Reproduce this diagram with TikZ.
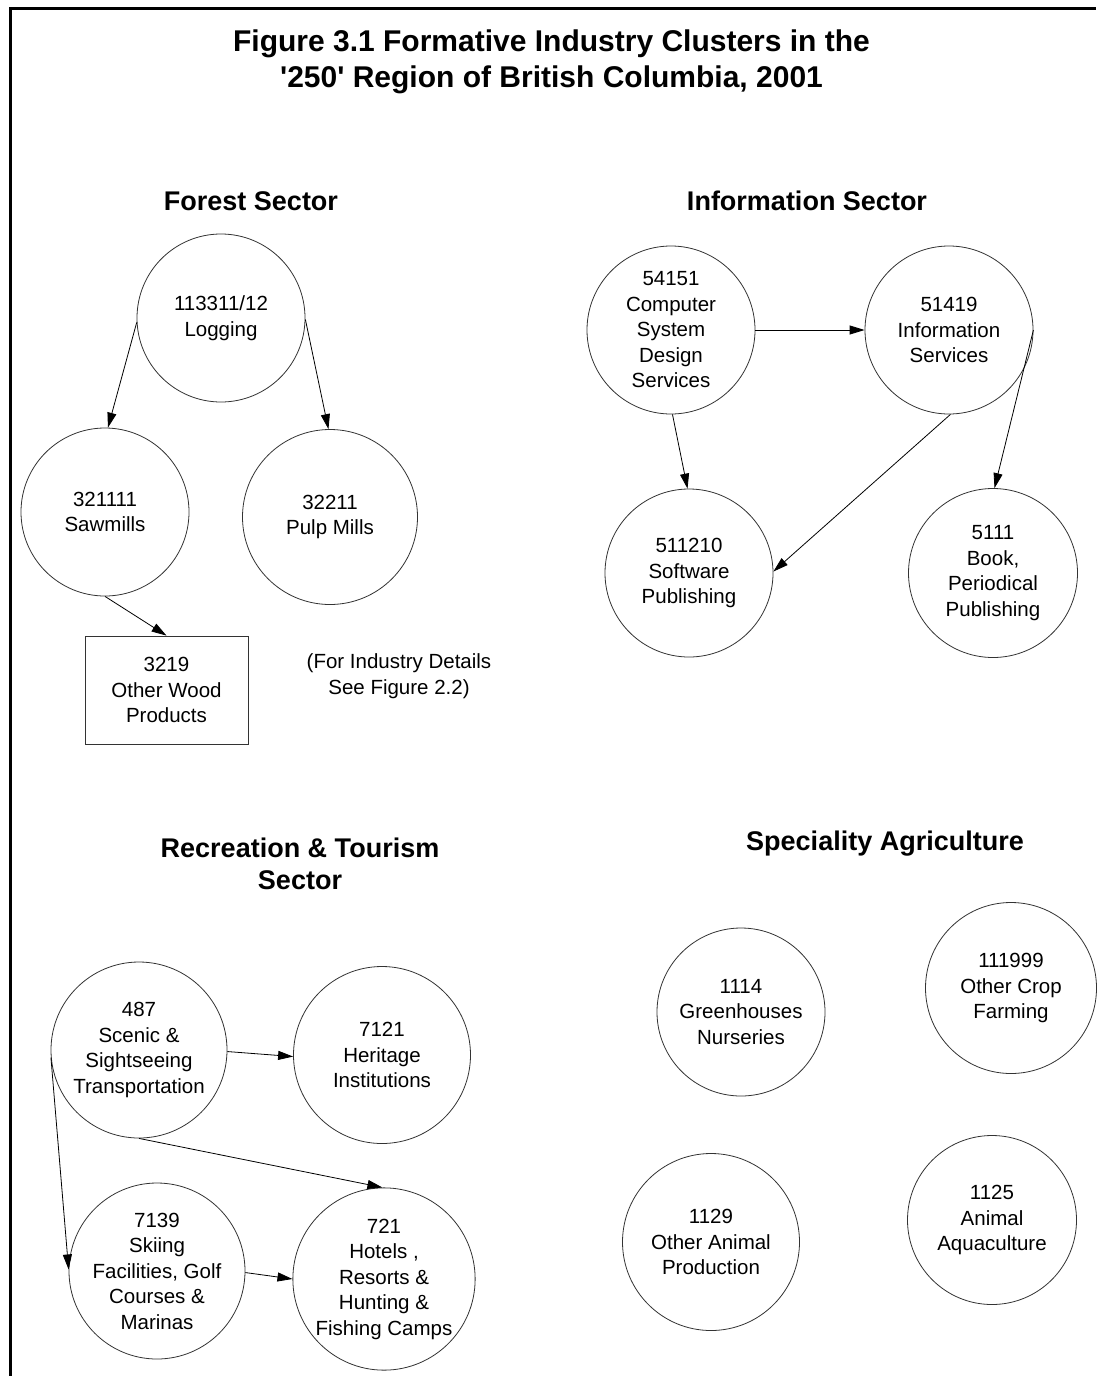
\documentclass[tikz,border=0pt]{standalone}
\usepackage{fontspec}
\setmainfont{Liberation Sans}
\usetikzlibrary{arrows.meta}

\begin{document}
\begin{tikzpicture}[x=1pt,y=-1pt,
  unit/.style={circle, draw=black!80, line width=0.8pt, inner sep=0pt,
    minimum size=#1, align=center, font=\fontsize{20.5}{25.5}\selectfont},
  unitbox/.style={rectangle, draw=black!80, line width=0.8pt, inner sep=0pt,
    minimum width=163pt, minimum height=108pt, align=center,
    font=\fontsize{20.5}{25.5}\selectfont},
  note/.style={align=center, font=\fontsize{20.5}{26}\selectfont},
  sector/.style={align=center, font=\fontsize{27}{32}\selectfont\bfseries},
  heading/.style={align=center, font=\fontsize{30}{36}\selectfont\bfseries},
  link/.style={-{Triangle[length=15pt,width=9pt]}, line width=0.8pt, black},
  frame/.style={line width=3pt, black}
]
% canvas
\fill[white] (0,0) rectangle (1096,1376);
\useasboundingbox (0,0) rectangle (1096,1376);

% page frame (top and left rules)
\draw[frame] (10.3,1376) -- (10.3,8) -- (1096,8);

% title
\node[heading] (title) at (551.5,62) {Figure 3.1 Formative Industry Clusters in the\\
  \textquotesingle250\textquotesingle{} Region of British Columbia, 2001};

% ---------------- Forest sector ----------------
\node[sector] (forest) at (251,201) {Forest Sector};
\node[unit=168pt] (logging) at (221,318) {113311/12\\Logging};
\node[unit=168pt] (sawmills) at (105,512) {321111\\Sawmills};
\node[unit=175pt] (pulp) at (330,517) {32211\\Pulp Mills};
\node[unitbox] (wood) at (166.5,690) {3219\\Other Wood\\Products};
\node[note] (details) at (399,676) {(For Industry Details\\See Figure 2.2)};

\draw[link] (logging.183) -- (sawmills.88);
\draw[link] (logging.-1) -- (pulp.91);
\draw[link] (sawmills.270) -- (wood.north);

% ---------------- Information sector ----------------
\node[sector] (info) at (807,201) {Information Sector};
\node[unit=168pt] (csd) at (671,330) {54151\\Computer\\System\\Design\\Services};
\node[unit=168pt] (infoserv) at (949,330) {51419\\Information\\Services};
\node[unit=168pt] (software) at (689,573) {511210\\Software\\Publishing};
\node[unit=169pt] (book) at (993,573) {5111\\Book,\\Periodical\\Publishing};

\draw[link] (csd.east) -- (infoserv.west);
\draw[link] (csd.-89) -- (software.91);
\draw[link] (infoserv.-89) -- (software.1);
\draw[link] (infoserv.0) -- (book.89);

% ---------------- Recreation & tourism sector ----------------
\node[sector] (recreation) at (300,864) {Recreation \& Tourism\\Sector};
\node[unit=176pt] (scenic) at (139,1050) {487\\Scenic \&\\Sightseeing\\Transportation};
\node[unit=177pt] (heritage) at (382,1055) {7121\\Heritage\\Institutions};
\node[unit=176pt] (skiing) at (157,1271) {7139\\Skiing\\Facilities, Golf\\Courses \&\\Marinas};
\node[unit=182pt] (hotels) at (384,1279) {721\\Hotels ,\\Resorts \&\\Hunting \&\\Fishing Camps};

\draw[link] (scenic.-1) -- (heritage.181);
\draw[link] (scenic.270) -- (hotels.91);
\draw[link] (scenic.185) -- (skiing.179);
\draw[link] (skiing.-1) -- (hotels.180);

% ---------------- Speciality agriculture ----------------
\node[sector] (agri) at (885,844) {Speciality Agriculture};
\node[unit=168pt] (greenhouse) at (741,1012) {1114\\Greenhouses\\Nurseries};
\node[unit=171pt] (crop) at (1011,988) {111999\\Other Crop\\Farming};
\node[unit=177pt] (animal) at (711,1242) {1129\\Other Animal\\Production};
\node[unit=169pt] (aqua) at (992,1220) {1125\\Animal\\Aquaculture};
\end{tikzpicture}
\end{document}
